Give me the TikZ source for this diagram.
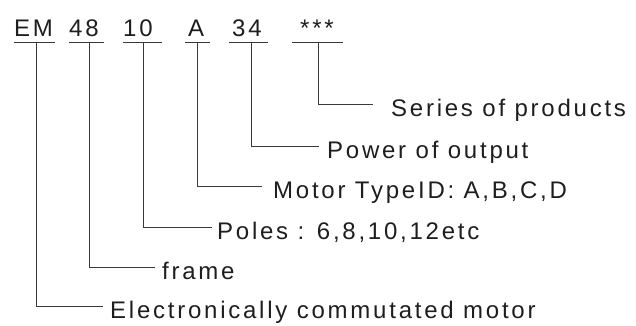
\documentclass[tikz,border=0pt]{standalone}
\usepackage{fontspec}
\setmainfont{Liberation Sans}[LetterSpace=11.5]
\definecolor{txt}{HTML}{1E1E1E}
\definecolor{ln}{HTML}{3A3A3A}
\begin{document}
\begin{tikzpicture}[x=1pt,y=-1pt,
  code/.style={anchor=base west,inner sep=0pt,font=\fontsize{24}{28}\selectfont,text=txt},
  lbl/.style={anchor=base west,inner sep=0pt,font=\fontsize{24}{28}\selectfont,text=txt},
  uline/.style={draw=ln,line width=1pt},
  conn/.style={draw=ln,line width=1pt}]
\useasboundingbox (0,0) rectangle (636,325);
% top code
\node[code] (cEM) at (14,36) {EM};
\node[code] (c48) at (69,36) {48};
\node[code] (c10) at (123,36) {10};
\node[code] (cA) at (188,36) {A};
\node[code] (c34) at (232,36) {34};
\node[code] (cS) at (300,36) {***};
% underlines
\coordinate (uEMa) at (14,42); \coordinate (uEMb) at (55,42);
\coordinate (u48a) at (69,42); \coordinate (u48b) at (104,42);
\coordinate (u10a) at (123,42); \coordinate (u10b) at (162,42);
\coordinate (uAa) at (185,42); \coordinate (uAb) at (210,42);
\coordinate (u34a) at (229,42); \coordinate (u34b) at (268,42);
\coordinate (uSa) at (292,42); \coordinate (uSb) at (343,42);
\draw[uline] (uEMa) -- (uEMb);
\draw[uline] (u48a) -- (u48b);
\draw[uline] (u10a) -- (u10b);
\draw[uline] (uAa) -- (uAb);
\draw[uline] (u34a) -- (u34b);
\draw[uline] (uSa) -- (uSb);
% stems
\coordinate (sEM) at (36,42);
\coordinate (s48) at (89,42);
\coordinate (s10) at (143,42);
\coordinate (sA) at (197,42);
\coordinate (s34) at (251,42);
\coordinate (sS) at (318,42);
% line ends
\coordinate (eEM) at (103,306);
\coordinate (e48) at (155,267);
\coordinate (e10) at (212,227);
\coordinate (eA) at (262,186);
\coordinate (e34) at (319,146);
\coordinate (eS) at (373,104);
% labels
\node[lbl] (lEM) at (110,318) {Electronically commutated motor};
\node[lbl] (l48) at (162,279) {frame};
\node[lbl] (l10) at (217,239) {Poles : 6,8,10,12etc};
\node[lbl] (lA) at (273,198) {Motor TypeID: A,B,C,D};
\node[lbl] (l34) at (327,158) {Power of output};
\node[lbl] (lS) at (391,116) {Series of products};
% connectors
\draw[conn] (sEM) |- (eEM);
\draw[conn] (s48) |- (e48);
\draw[conn] (s10) |- (e10);
\draw[conn] (sA) |- (eA);
\draw[conn] (s34) |- (e34);
\draw[conn] (sS) |- (eS);
\end{tikzpicture}
\end{document}
